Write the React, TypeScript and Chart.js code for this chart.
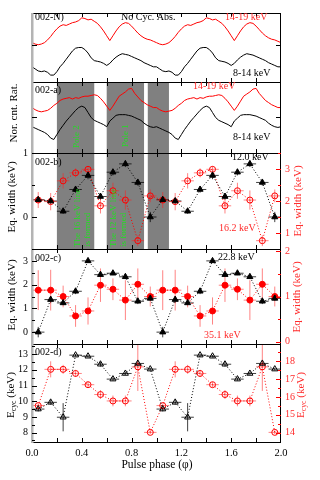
import React, { useEffect, useRef } from "react";
import { Chart, registerables } from "chart.js";
Chart.register(...registerables);

const FONT = "'Liberation Serif', 'DejaVu Serif', serif";
const RED = "#ff0000";
const RED_TXT = "#ff2a2a";
const GREEN = "#22dd22";
const SHADE = "#808080";

// ---------- light curves (one pulse cycle, repeated over phase 1-2) ----------
const LC_PHASE = [0, 0.025, 0.05, 0.075, 0.1, 0.125, 0.15, 0.175, 0.2, 0.225, 0.25, 0.275, 0.3, 0.325, 0.35, 0.375, 0.4, 0.425, 0.45, 0.475, 0.5, 0.525, 0.55, 0.575, 0.6, 0.625, 0.65, 0.675, 0.7, 0.725, 0.75, 0.775, 0.8, 0.825, 0.85, 0.875, 0.9, 0.925, 0.95, 0.975];
const N_HARD = [0.57, 0.55, 0.54, 0.55, 0.57, 0.61, 0.66, 0.72, 0.77, 0.81, 0.83, 0.82, 0.84, 0.86, 0.87, 0.89, 0.93, 0.92, 0.9, 0.91, 0.88, 0.85, 0.8, 0.74, 0.67, 0.6, 0.67, 0.74, 0.8, 0.84, 0.86, 0.85, 0.81, 0.76, 0.71, 0.67, 0.64, 0.62, 0.61, 0.59];
const N_SOFT = [0.22, 0.19, 0.16, 0.15, 0.16, 0.14, 0.1, 0.1, 0.15, 0.22, 0.27, 0.33, 0.39, 0.45, 0.49, 0.5, 0.5, 0.47, 0.42, 0.35, 0.31, 0.3, 0.29, 0.27, 0.24, 0.27, 0.32, 0.36, 0.39, 0.41, 0.4, 0.39, 0.37, 0.35, 0.33, 0.31, 0.28, 0.26, 0.24, 0.22];
const A_HARD = [0.64, 0.61, 0.59, 0.58, 0.59, 0.6, 0.63, 0.67, 0.7, 0.74, 0.76, 0.77, 0.78, 0.76, 0.78, 0.77, 0.79, 0.8, 0.8, 0.81, 0.82, 0.81, 0.77, 0.72, 0.66, 0.6, 0.66, 0.73, 0.8, 0.83, 0.86, 0.9, 0.91, 0.84, 0.79, 0.74, 0.71, 0.68, 0.66, 0.64];
const A_SOFT = [0.37, 0.35, 0.33, 0.31, 0.29, 0.26, 0.21, 0.19, 0.26, 0.33, 0.39, 0.45, 0.5, 0.55, 0.6, 0.64, 0.66, 0.64, 0.57, 0.5, 0.46, 0.44, 0.42, 0.4, 0.37, 0.45, 0.49, 0.53, 0.54, 0.54, 0.54, 0.53, 0.52, 0.5, 0.48, 0.46, 0.42, 0.39, 0.37, 0.36];

// ---------- phase-resolved spectral parameters ----------
const BIN_PHASE = [0.05, 0.15, 0.25, 0.35, 0.45, 0.55, 0.65, 0.75, 0.85, 0.95, 1.05, 1.15, 1.25, 1.35, 1.45, 1.55, 1.65, 1.75, 1.85, 1.95];
const BIN_HALF = 0.05;
const B_EW12 = [0.27, 0.25, 0.09, 0.43, 0.65, 0.32, 0.7, 0.83, 0.54, 0.0, 0.27, 0.25, 0.09, 0.43, 0.65, 0.32, 0.7, 0.83, 0.54, 0.0];
const B_EW12_ERR = [0.05, 0.05, 0.04, 0.05, 0.06, 0.05, 0.05, 0.05, 0.05, 0.08, 0.05, 0.05, 0.04, 0.05, 0.06, 0.05, 0.05, 0.05, 0.05, 0.08];
const B_EW16 = [2.03, 1.98, 2.63, 2.88, 2.99, 1.85, 2.32, 2.03, 0.76, 2.16, 2.03, 1.98, 2.63, 2.88, 2.99, 1.85, 2.32, 2.03, 0.76, 2.16];
const B_EW16_ERR = [0.25, 0.27, 0.24, 0.14, 0.1, 0.24, 0.25, 0.3, 0.17, 0.2, 0.25, 0.27, 0.24, 0.14, 0.1, 0.24, 0.25, 0.3, 0.17, 0.2];
const C_EW23 = [0.0, 1.37, 1.23, 1.72, 3.0, 2.42, 2.48, 2.33, 1.3, 1.42, 0.0, 1.37, 1.23, 1.72, 3.0, 2.42, 2.48, 2.33, 1.3, 1.42];
const C_EW23_ERR = [0.22, 0.15, 0.1, 0.12, 0.08, 0.08, 0.08, 0.1, 0.12, 0.1, 0.22, 0.15, 0.1, 0.12, 0.08, 0.08, 0.08, 0.1, 0.12, 0.1];
const C_EW35 = [1.14, 1.14, 1.0, 0.57, 0.68, 1.25, 1.16, 0.92, 1.27, 1.0, 1.14, 1.14, 1.0, 0.57, 0.68, 1.25, 1.16, 0.92, 1.27, 1.0];
const C_EW35_ERR = [0.44, 0.45, 0.24, 0.24, 0.3, 0.37, 0.24, 0.44, 0.35, 0.22, 0.44, 0.45, 0.24, 0.24, 0.3, 0.37, 0.24, 0.44, 0.35, 0.22];
const D_ECYC1 = [9.5, 9.93, 8.98, 12.94, 12.87, 12.36, 11.41, 11.77, 12.41, 12.05, 9.5, 9.93, 8.98, 12.94, 12.87, 12.36, 11.41, 11.77, 12.41, 12.05];
const D_ECYC1_ERR = [0.15, 0.15, 0.9, 0.08, 0.08, 0.15, 0.1, 0.1, 0.15, 0.08, 0.15, 0.15, 0.9, 0.08, 0.08, 0.15, 0.1, 0.1, 0.15, 0.08];
const D_ECYC2 = [15.52, 17.55, 17.55, 17.32, 16.69, 16.14, 15.78, 15.78, 17.69, 14.02, 15.52, 17.55, 17.55, 17.32, 16.69, 16.14, 15.78, 15.78, 17.69, 14.02];
const D_ECYC2_ERR = [0.12, 0.45, 0.25, 0.2, 0.15, 0.25, 0.3, 0.3, 1.35, 0.1, 0.12, 0.45, 0.25, 0.2, 0.15, 0.25, 0.3, 0.3, 1.35, 0.1];

// shaded phase intervals
const SHADE_START = [0.2, 0.6, 0.93];
const SHADE_END = [0.5, 0.9, 1.1];

// ticks
const X_TICKS = [0.2, 0.4, 0.6, 0.8, 1.0, 1.2, 1.4, 1.6, 1.8];
const X_LABELS = [0, 0.4, 0.8, 1.2, 1.6, 2.0];
const N_TICKS = [0.54];
const A_TICKS = [0.51];
const B_L_TICKS = [-0.5, 0, 0.5, 1];
const B_R_TICKS = [0.5, 1, 1.5, 2, 2.5, 3, 3.5];
const C_L_TICKS = [-0.5, 0, 0.5, 1, 1.5, 2, 2.5, 3, 3.5];
const C_R_TICKS = [0, 0.5, 1, 1.5, 2];
const D_L_TICKS = [7.5, 8, 8.5, 9, 9.5, 10, 10.5, 11, 11.5, 12, 12.5, 13, 13.5];
const D_R_TICKS = [14, 14.5, 15, 15.5, 16, 16.5, 17, 17.5, 18, 18.5];

type Txt = { t: string; x: number; y: number; color?: string; size?: number; rot?: boolean; align?: CanvasTextAlign; sub?: [string, string, string] };

function cycles(vals: number[]) {
  const a = LC_PHASE.map((p, i) => ({ x: p, y: vals[i] }));
  const b = LC_PHASE.map((p, i) => ({ x: p + 1, y: vals[i] }));
  return [...a, ...b, { x: 2, y: vals[0] }];
}
function bins(vals: number[]) {
  return BIN_PHASE.map((p, i) => ({ x: p, y: vals[i] }));
}
const isInt = (v: number) => Math.abs(v - Math.round(v)) < 1e-6;

function decor(spec: { shade?: boolean; lt?: number[]; rt?: number[]; rtColor?: string; texts: Txt[] }) {
  return {
    id: "decor",
    beforeDatasetsDraw(chart: any) {
      const { ctx, chartArea: a } = chart;
      const xs = chart.scales.x;
      ctx.save();
      ctx.beginPath();
      ctx.rect(a.left, a.top, a.right - a.left, a.bottom - a.top);
      ctx.clip();
      if (spec.shade) {
        ctx.fillStyle = SHADE;
        SHADE_START.forEach((s, i) => {
          const x0 = xs.getPixelForValue(s);
          const x1 = xs.getPixelForValue(SHADE_END[i]);
          ctx.fillRect(x0, a.top, x1 - x0, a.bottom - a.top);
        });
      }
      chart.data.datasets.forEach((ds: any) => {
        if (!ds.errY) return;
        const ys = chart.scales[ds.yAxisID];
        ctx.strokeStyle = ds.errColor;
        ctx.lineWidth = 1;
        ds.data.forEach((p: any, i: number) => {
          const x = xs.getPixelForValue(p.x);
          const y = ys.getPixelForValue(p.y);
          const e = ds.errY[i];
          ctx.beginPath();
          ctx.moveTo(xs.getPixelForValue(p.x - BIN_HALF), y);
          ctx.lineTo(xs.getPixelForValue(p.x + BIN_HALF), y);
          ctx.moveTo(x, ys.getPixelForValue(p.y - e));
          ctx.lineTo(x, ys.getPixelForValue(p.y + e));
          ctx.stroke();
        });
      });
      ctx.restore();
    },
    afterDraw(chart: any) {
      const { ctx, chartArea: a } = chart;
      const xs = chart.scales.x;
      ctx.save();
      // frame
      ctx.strokeStyle = "#000";
      ctx.lineWidth = 1;
      ctx.strokeRect(a.left + 0.5, a.top + 0.5, a.right - a.left - 1, a.bottom - a.top);
      ctx.fillStyle = "#b4b4b4";
      ctx.fillRect(a.left - 1, a.top, 2.5, a.bottom - a.top + 1);
      // x ticks
      ctx.beginPath();
      X_TICKS.forEach((v) => {
        const x = Math.round(xs.getPixelForValue(v)) + 0.5;
        ctx.moveTo(x, a.top);
        ctx.lineTo(x, a.top + 4);
        ctx.moveTo(x, a.bottom);
        ctx.lineTo(x, a.bottom - 4);
      });
      ctx.stroke();
      // y ticks
      const yl = chart.scales.y;
      if (spec.lt) {
        ctx.strokeStyle = "#000";
        ctx.beginPath();
        spec.lt.forEach((v) => {
          const y = Math.round(yl.getPixelForValue(v)) + 0.5;
          const len = isInt(v) || spec.lt!.length === 1 ? 5 : 3;
          ctx.moveTo(a.left, y);
          ctx.lineTo(a.left + len, y);
          if (!spec.rt) {
            ctx.moveTo(a.right, y);
            ctx.lineTo(a.right - len, y);
          }
        });
        ctx.stroke();
      }
      if (spec.rt) {
        const yr = chart.scales.y2;
        ctx.strokeStyle = spec.rtColor || RED;
        ctx.beginPath();
        spec.rt.forEach((v) => {
          const y = Math.round(yr.getPixelForValue(v)) + 0.5;
          const len = isInt(v) ? 5 : 3;
          ctx.moveTo(a.right, y);
          ctx.lineTo(a.right - len, y);
        });
        ctx.stroke();
      }
      // texts
      spec.texts.forEach((t) => {
        const size = t.size || 10;
        ctx.fillStyle = t.color || "#000";
        ctx.font = `${size}px ${FONT}`;
        ctx.textBaseline = "middle";
        ctx.save();
        ctx.translate(t.x, t.y);
        if (t.rot) ctx.rotate(-Math.PI / 2);
        if (t.sub) {
          const [m, s, r] = t.sub;
          ctx.font = `${size}px ${FONT}`;
          const w1 = ctx.measureText(m).width;
          const w3 = ctx.measureText(r).width;
          ctx.font = `${size * 0.7}px ${FONT}`;
          const w2 = ctx.measureText(s).width;
          let x = -(w1 + w2 + w3) / 2;
          ctx.textAlign = "left";
          ctx.font = `${size}px ${FONT}`;
          ctx.fillText(m, x, 0);
          x += w1;
          ctx.font = `${size * 0.7}px ${FONT}`;
          ctx.fillText(s, x, 3);
          x += w2;
          ctx.font = `${size}px ${FONT}`;
          ctx.fillText(r, x, 0);
        } else {
          ctx.textAlign = t.align || "left";
          ctx.fillText(t.t, 0, 0);
        }
        ctx.restore();
      });
      ctx.restore();
    },
  };
}

function lineDs(vals: number[], color: string) {
  return { data: cycles(vals), yAxisID: "y", showLine: true, borderColor: color, borderWidth: 1, pointRadius: 0, tension: 0 };
}
function binDs(vals: number[], err: number[], axis: string, color: string, style: string, filled: boolean, errColor: string) {
  return {
    data: bins(vals), yAxisID: axis, showLine: true, borderColor: color, borderWidth: 1, borderDash: [1, 2],
    pointStyle: style, pointRadius: style === "triangle" ? 3.5 : 3, pointBorderWidth: 1,
    pointBackgroundColor: filled ? color : "rgba(0,0,0,0)", pointBorderColor: color,
    errY: err, errColor,
  };
}

function yAxis(pos: "left" | "right", min: number, max: number, ticks: number[], color: string, width: number) {
  return {
    type: "linear", position: pos, min, max,
    afterFit: (s: any) => { s.width = width; },
    afterBuildTicks: (s: any) => { s.ticks = ticks.map((v) => ({ value: v })); },
    grid: { display: false, drawTicks: false },
    border: { display: false },
    ticks: {
      autoSkip: false, padding: 4, color, font: { family: FONT, size: 10 },
      callback: (v: any) => (isInt(Number(v)) ? String(Math.round(Number(v))) : ""),
    },
  };
}

function makeConfig(p: { top: number; bottom: number; axes: boolean; xAxis?: boolean; datasets: any[]; yl: any; yr?: any; decor: any }) {
  const scales: any = {
    x: p.xAxis
      ? {
          type: "linear", min: 0, max: 2, position: "bottom",
          afterFit: (s: any) => { s.height = 30; },
          afterBuildTicks: (s: any) => { s.ticks = X_LABELS.map((v) => ({ value: v })); },
          grid: { display: false, drawTicks: false }, border: { display: false },
          ticks: { padding: 5, color: "#000", maxRotation: 0, autoSkip: false, font: { family: FONT, size: 10.5 }, callback: (v: any) => Number(v).toFixed(1) },
        }
      : { type: "linear", min: 0, max: 2, display: false },
    y: p.yl,
  };
  if (p.yr) scales.y2 = p.yr;
  return {
    type: "scatter",
    data: { datasets: p.datasets },
    options: {
      animation: false, responsive: false, maintainAspectRatio: false, events: [],
      layout: { padding: { top: p.top, bottom: p.bottom, left: p.axes ? 0 : 32, right: p.axes ? 0 : 39 } },
      plugins: { legend: { display: false }, tooltip: { enabled: false } },
      scales,
    },
    plugins: [p.decor],
  };
}

const PANELS = [
  () => makeConfig({
    top: 13, bottom: 398, axes: false,
    datasets: [lineDs(N_HARD, RED), lineDs(N_SOFT, "#000")],
    yl: { type: "linear", min: 0, max: 1, display: false },
    decor: decor({ lt: N_TICKS, texts: [
      { t: "002-N)", x: 35, y: 17 },
      { t: "No Cyc. Abs.", x: 121, y: 17 },
      { t: "14-19 keV", x: 225, y: 17, color: RED_TXT },
      { t: "8-14 keV", x: 233, y: 73 },
    ] }),
  }),
  () => makeConfig({
    top: 82, bottom: 327, axes: false,
    datasets: [lineDs(A_HARD, RED), lineDs(A_SOFT, "#000")],
    yl: { type: "linear", min: 0, max: 1, display: false },
    decor: decor({ shade: true, lt: A_TICKS, texts: [
      { t: "002-a)", x: 35, y: 90 },
      { t: "14-19 keV", x: 193, y: 86, color: RED_TXT },
      { t: "8-14 keV", x: 233, y: 137 },
      { t: "Pole 2", x: 77, y: 148, rot: true, color: GREEN, size: 9 },
      { t: "Pole 1", x: 126, y: 147, rot: true, color: GREEN, size: 9 },
      { t: "Nor. cnt. Rat.", x: 14, y: 113, rot: true, align: "center", size: 11 },
    ] }),
  }),
  () => makeConfig({
    top: 153, bottom: 231, axes: true,
    datasets: [
      binDs(B_EW12, B_EW12_ERR, "y", "#000", "triangle", true, "rgba(0,0,0,0.75)"),
      binDs(B_EW16, B_EW16_ERR, "y2", RED, "circle", false, "rgba(255,30,30,0.55)"),
    ],
    yl: yAxis("left", -0.5, 1, B_L_TICKS, "#000", 32),
    yr: yAxis("right", 0.5, 3.5, B_R_TICKS, RED_TXT, 39),
    decor: decor({ shade: true, lt: B_L_TICKS, rt: B_R_TICKS, texts: [
      { t: "002-b)", x: 35, y: 162 },
      { t: "12.0 keV", x: 232, y: 157 },
      { t: "16.2 keV", x: 219, y: 228, color: RED_TXT },
      { t: "The 16 keV line", x: 78, y: 247, rot: true, color: GREEN, size: 9 },
      { t: "is formed", x: 88, y: 247, rot: true, color: GREEN, size: 9 },
      { t: "The 12 keV line", x: 114, y: 247, rot: true, color: GREEN, size: 9 },
      { t: "is formed", x: 124, y: 247, rot: true, color: GREEN, size: 9 },
      { t: "Eq. width (keV)", x: 12, y: 197, rot: true, align: "center", size: 11 },
      { t: "Eq. width (keV)", x: 298, y: 201, rot: true, align: "center", size: 11, color: RED_TXT },
    ] }),
  }),
  () => makeConfig({
    top: 249, bottom: 136, axes: true,
    datasets: [
      binDs(C_EW23, C_EW23_ERR, "y", "#000", "triangle", true, "rgba(0,0,0,0.75)"),
      binDs(C_EW35, C_EW35_ERR, "y2", RED, "circle", true, "rgba(255,30,30,0.55)"),
    ],
    yl: yAxis("left", -0.5, 3.5, C_L_TICKS, "#000", 32),
    yr: yAxis("right", -0.05, 2.05, C_R_TICKS, RED_TXT, 39),
    decor: decor({ lt: C_L_TICKS, rt: C_R_TICKS, texts: [
      { t: "002-c)", x: 35, y: 258 },
      { t: "22.8 keV", x: 218, y: 257 },
      { t: "35.1 keV", x: 204, y: 335, color: RED_TXT },
      { t: "Eq. width (keV)", x: 12, y: 295, rot: true, align: "center", size: 11 },
      { t: "Eq. width (keV)", x: 297, y: 297, rot: true, align: "center", size: 11, color: RED_TXT },
    ] }),
  }),
  () => makeConfig({
    top: 344, bottom: 8, axes: true, xAxis: true,
    datasets: [
      binDs(D_ECYC1, D_ECYC1_ERR, "y", "#000", "triangle", false, "rgba(0,0,0,0.75)"),
      binDs(D_ECYC2, D_ECYC2_ERR, "y2", RED, "circle", false, "rgba(255,30,30,0.55)"),
    ],
    yl: yAxis("left", 7.4, 13.65, D_L_TICKS, "#000", 32),
    yr: yAxis("right", 13.48, 18.97, D_R_TICKS, RED_TXT, 39),
    decor: decor({ lt: D_L_TICKS, rt: D_R_TICKS, texts: [
      { t: "002-d)", x: 35, y: 352 },
      { t: "", x: 11, y: 395, rot: true, size: 11, sub: ["E", "cyc", " (keV)"] },
      { t: "", x: 301, y: 395, rot: true, size: 11, color: RED_TXT, sub: ["E", "cyc", " (keV)"] },
      { t: "Pulse phase (\u03c6)", x: 157, y: 465, align: "center", size: 11.5 },
    ] }),
  }),
];

function Panel({ make }: { make: () => any }) {
  const ref = useRef<HTMLCanvasElement>(null);
  useEffect(() => {
    const chart = new Chart(ref.current as HTMLCanvasElement, make());
    return () => chart.destroy();
  }, [make]);
  return <canvas ref={ref} width={320} height={480} style={{ position: "absolute", left: 0, top: 0, width: 320, height: 480 }} />;
}

export default function App() {
  return (
    <div style={{ position: "fixed", left: 0, top: 0, width: 320, height: 480, background: "#fff", overflow: "hidden" }}>
      {PANELS.map((m, i) => (
        <Panel key={i} make={m} />
      ))}
    </div>
  );
}
